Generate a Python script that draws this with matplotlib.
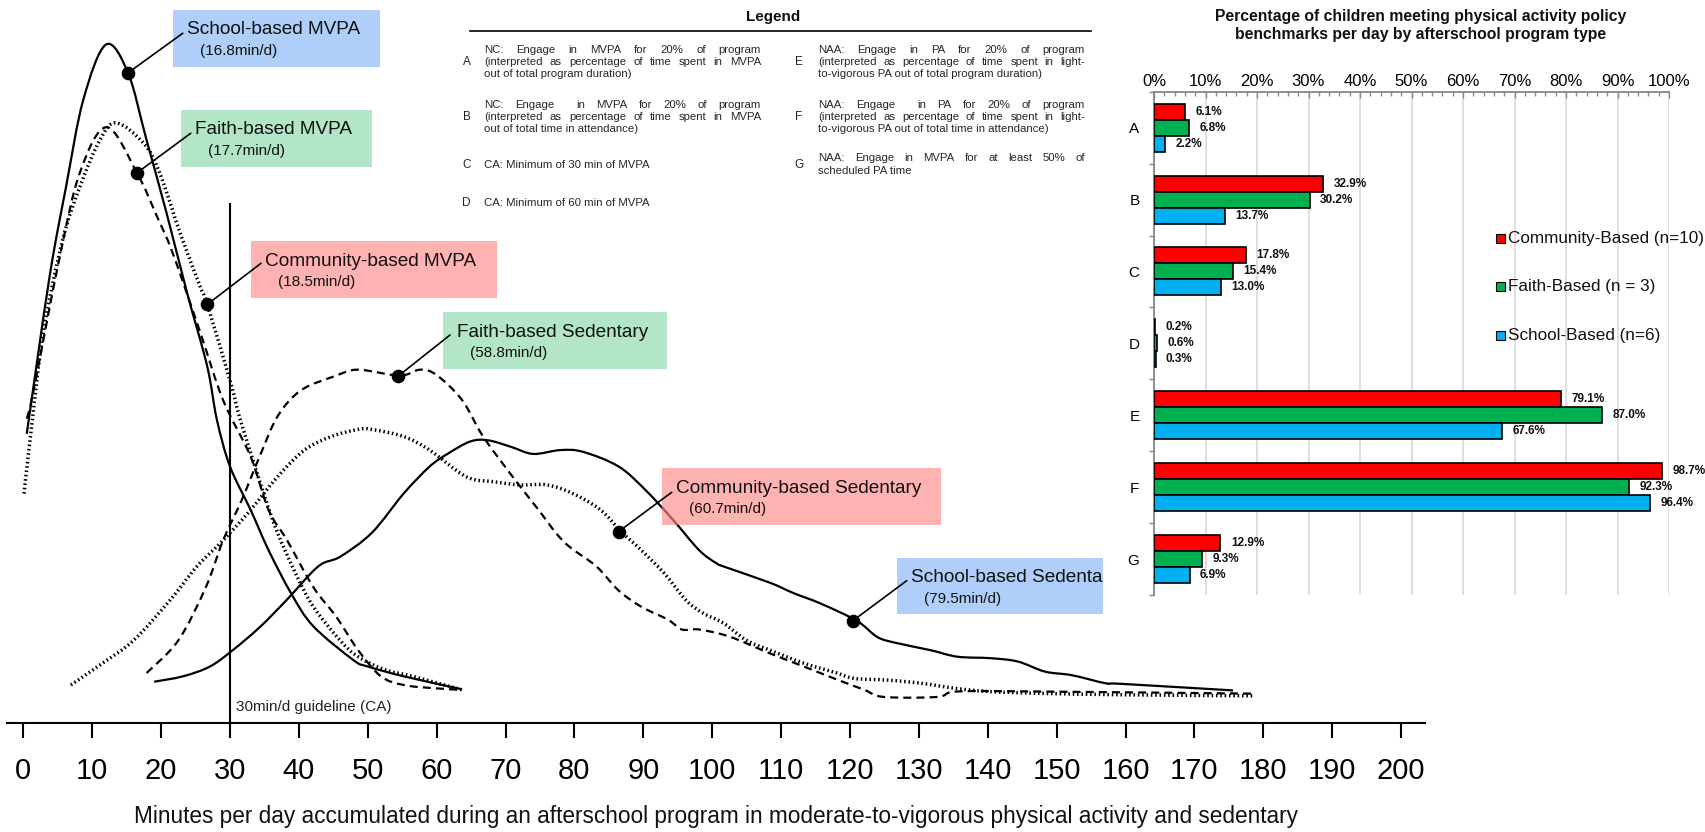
import matplotlib
matplotlib.use("Agg")
import matplotlib.pyplot as plt
from matplotlib.patches import Rectangle, PathPatch
from matplotlib.path import Path
import numpy as np

plt.rcParams['font.family'] = ['Liberation Sans', 'DejaVu Sans']

W, H = 1705, 832

# ---- distribution curves: minutes/day vs relative density (arbitrary units) ----
school_mvpa_min = [0.5, 3.8, 6.2, 8.7, 12.0, 15.2, 17.9, 20.8, 23.8, 26.7, 28.1, 30.0, 33.0, 35.6,
                   38.9, 42.1, 47.9, 50.0, 55.2, 63.7]
school_mvpa_den = [26.4, 40.8, 49.1, 57.1, 62.2, 59.6, 53.4, 46.7, 39.3, 32.6, 27.7, 23.4, 19.4, 15.7,
                   11.7, 8.7, 5.6, 5.0, 4.1, 2.9]

faith_mvpa_min = [0.5, 1.4, 5.2, 8.2, 12.1, 16.5, 19.4, 21.7, 25.7, 29.0, 33.0, 35.6, 38.3, 42.1,
                  45.4, 48.6, 51.9, 55.2, 59.7, 63.7]
faith_mvpa_den = [27.8, 30.1, 42.4, 50.4, 54.6, 50.4, 46.4, 43.0, 35.7, 29.5, 24.3, 19.4, 16.6, 12.3,
                  9.6, 6.5, 4.1, 3.3, 3.0, 2.85]

comm_mvpa_min = [0.1, 1.1, 2.9, 5.7, 8.2, 11.1, 13.5, 17.5, 19.8, 22.8, 25.7, 26.7, 30.1, 31.5,
                 34.9, 36.9, 39.5, 42.1, 46.0, 48.6, 52.5, 56.5, 63.7]
comm_mvpa_den = [20.9, 26.5, 35.7, 44.2, 49.1, 53.4, 55.0, 53.1, 50.4, 44.8, 39.9, 38.3, 31.1, 27.7,
                 20.9, 17.3, 13.6, 10.5, 7.4, 5.9, 4.7, 4.1, 2.85]

faith_sed_min = [17.9, 22.5, 26.5, 29.0, 31.7, 34.3, 36.9, 40.3, 45.2, 48.6, 54.6, 57.6, 60.0, 63.7,
                 66.8, 71.4, 74.8, 77.3, 79.3, 83.2, 86.4, 89.7, 93.6, 95.6, 98.1, 102.5, 108.4,
                 113.3, 118.1, 122.1, 124.9, 132.7, 135.6, 147.3, 178.7]
faith_sed_den = [4.4, 7.4, 12.3, 16.6, 20.3, 24.3, 28.0, 30.4, 31.7, 32.3, 31.75, 32.3, 31.8, 29.5,
                 26.1, 22.15, 19.4, 17.3, 16.0, 14.2, 12.0, 10.5, 9.3, 8.4, 8.4, 7.75, 6.2,
                 5.0, 3.8, 2.85, 2.2, 2.2, 2.7, 2.7, 2.5]

comm_sed_min = [6.9, 11.5, 16.0, 21.3, 25.2, 29.0, 33.0, 36.9, 40.8, 44.7, 48.6, 50.6, 55.2, 59.0,
                64.3, 68.2, 72.1, 76.0, 79.8, 83.8, 86.8, 89.7, 93.0, 96.2, 98.7, 101.6, 105.0,
                108.4, 113.3, 118.1, 120.6, 125.4, 130.3, 135.2, 140.0, 147.3, 159.5, 178.7]
comm_sed_den = [3.3, 5.3, 7.4, 11.1, 14.2, 16.6, 19.4, 22.45, 24.9, 26.15, 26.8, 26.8, 26.15, 24.9,
                22.45, 22.0, 21.7, 21.7, 20.9, 19.4, 17.4, 15.7, 13.6, 11.1, 9.9, 9.0, 7.4,
                6.5, 5.3, 4.4, 3.9, 3.75, 3.46, 3.0, 2.7, 2.54, 2.4, 2.3]

school_sed_min = [19.0, 23.2, 27.1, 30.4, 34.3, 38.2, 42.8, 46.0, 50.6, 55.2, 59.0, 61.7, 64.9, 67.5,
                  70.8, 74.0, 77.9, 81.2, 86.4, 90.3, 94.3, 98.1, 100.6, 102.1, 108.4, 111.8, 115.7,
                  121.0, 124.0, 126.9, 131.7, 135.6, 140.5, 144.4, 148.3, 152.2, 157.1, 159.5, 175.6]
school_sed_den = [3.6, 4.1, 5.0, 6.5, 8.6, 11.1, 14.2, 15.1, 17.3, 20.9, 23.4, 24.6, 25.7, 25.8,
                  25.2, 24.55, 24.9, 24.75, 23.4, 21.24, 18.5, 15.7, 14.5, 14.1, 12.7, 11.75, 10.8,
                  9.2, 7.7, 7.14, 6.5, 5.9, 5.76, 5.45, 4.53, 4.2, 3.46, 3.4, 2.8]

# annotation anchors on the curves and their labels
dot_min = [15.2, 16.5, 26.7, 54.4, 86.4, 120.4]
dot_den = [59.6, 50.4, 38.3, 31.7, 17.4, 9.2]
box_titles = ["School-based MVPA", "Faith-based MVPA", "Community-based MVPA",
              "Faith-based Sedentary", "Community-based Sedentary", "School-based Sedentary"]
box_means = ["(16.8min/d)", "(17.7min/d)", "(18.5min/d)", "(58.8min/d)", "(60.7min/d)", "(79.5min/d)"]
guideline_min = 30

# ---- benchmark bar chart ----
bench = ['A', 'B', 'C', 'D', 'E', 'F', 'G']
pct_community = [6.1, 32.9, 17.8, 0.2, 79.1, 98.7, 12.9]
pct_faith = [6.8, 30.2, 15.4, 0.6, 87.0, 92.3, 9.3]
pct_school = [2.2, 13.7, 13.0, 0.3, 67.6, 96.4, 6.9]
group_names = ["Community-Based (n=10)", "Faith-Based (n = 3)", "School-Based (n=6)"]

legend_lines = {
    'A': ["NC: Engage in MVPA for 20% of program",
          "(interpreted as percentage of time spent in MVPA",
          "out of total program duration)"],
    'B': ["NC: Engage  in MVPA for 20% of program",
          "(interpreted as percentage of time spent in MVPA",
          "out of total time in attendance)"],
    'C': ["CA: Minimum of 30 min of MVPA"],
    'D': ["CA: Minimum of 60 min of MVPA"],
    'E': ["NAA: Engage in PA for 20% of program",
          "(interpreted as percentage of time spent in light-",
          "to-vigorous PA out of total program duration)"],
    'F': ["NAA: Engage  in PA for 20% of program",
          "(interpreted as percentage of time spent in light-",
          "to-vigorous PA out of total time in attendance)"],
    'G': ["NAA: Engage in MVPA for at least 50% of",
          "scheduled PA time"],
}


def fx(x):
    return x / W


def fy(y):
    return 1 - y / H


def smooth(xs, ys):
    # smoothed line through the read points (cubic bezier segments)
    p = np.column_stack([xs, ys]).astype(float)
    n = len(p)
    verts, codes = [p[0]], [Path.MOVETO]
    for i in range(n - 1):
        p0 = p[i - 1] if i > 0 else p[i]
        p3 = p[i + 2] if i + 2 < n else p[i + 1]
        verts += [p[i] + (p[i + 1] - p0) / 6, p[i + 1] - (p3 - p[i]) / 6, p[i + 1]]
        codes += [Path.CURVE4] * 3
    return Path(verts, codes)


fig = plt.figure(figsize=(W / 100, H / 100), dpi=100)
fig.patch.set_facecolor('white')

# ---------------- left: distributions ----------------
ax = fig.add_axes([fx(6.7), fy(722.7), fx(1424.5 - 6.7), 722.7 / H])
ax.patch.set_alpha(0)
ax.set_xlim(-2.41, 203.4)
ax.set_ylim(-0.17, 66.3)

solid = dict(edgecolor='black', lw=1.6, ls='-')
dashed = dict(edgecolor='black', lw=1.6, ls=(0, (3.6, 2.3)))
dotted = dict(edgecolor='black', lw=2.5, ls=(0, (0.45, 0.8)))

curves = [(school_mvpa_min, school_mvpa_den, solid), (faith_mvpa_min, faith_mvpa_den, dashed),
          (comm_mvpa_min, comm_mvpa_den, dotted), (faith_sed_min, faith_sed_den, dashed),
          (comm_sed_min, comm_sed_den, dotted), (school_sed_min, school_sed_den, solid)]
for xs, ys, st in curves:
    ax.add_patch(PathPatch(smooth(xs, ys), fill=False, zorder=2, **st))

ax.vlines(guideline_min, -0.17, 47.6, color='black', lw=1.5, zorder=2)
fig.text(fx(236), fy(707), "30min/d guideline (CA)", fontsize=11, va='center', color='#222222')

for s in ['top', 'right', 'left']:
    ax.spines[s].set_visible(False)
ax.spines['bottom'].set_linewidth(1.5)
ax.set_yticks([])
ax.set_xticks(np.arange(0, 201, 10))
ax.tick_params(axis='x', direction='out', length=10.5, width=1.5, labelsize=21, pad=14)

fig.text(fx(716), fy(823), "Minutes per day accumulated during an afterschool program in "
         "moderate-to-vigorous physical activity and sedentary",
         ha='center', va='baseline', fontsize=16.3, color='#111111')

# annotation boxes (pixel layout)
box_px = [(173, 10, 380, 66.7), (181, 110, 371.7, 166.7), (251, 241, 496.7, 297.7),
          (443.3, 312.3, 666.7, 369), (662.3, 468.3, 940.7, 525), (897.3, 557.6, 1103, 614.3)]
box_col = ['#85b4f7', '#8ad8aa', '#ff8989', '#8ad8aa', '#ff8989', '#85b4f7']
lead_px = [(182.7, 33.3), (190.7, 133.3), (261, 263.3), (450, 335), (671.7, 492.3), (906.7, 580.7)]

for i in range(6):
    x0, y0, x1, y1 = box_px[i]
    rect = Rectangle((fx(x0), fy(y1)), fx(x1 - x0), (y1 - y0) / H, transform=fig.transFigure,
                     facecolor=box_col[i], alpha=0.65, edgecolor='none', zorder=3, clip_on=False)
    ax.add_patch(rect)
    ax.annotate('', xy=(dot_min[i], dot_den[i]), xycoords='data',
                xytext=(fx(lead_px[i][0]), fy(lead_px[i][1])), textcoords='figure fraction',
                arrowprops=dict(arrowstyle='-', color='black', lw=1.2, shrinkA=0, shrinkB=0),
                zorder=3.5)
    t1 = ax.text(fx(x0 + 14), fy(y0 + 20), box_titles[i], transform=fig.transFigure,
                 fontsize=13.7, va='center', color='#111111', zorder=4, clip_on=False)
    t2 = ax.text(fx(x0 + 27), fy(y0 + 41), box_means[i], transform=fig.transFigure,
                 fontsize=11, va='center', color='#111111', zorder=4, clip_on=False)
    if i == 5:
        for t in (t1, t2):
            t.set_clip_on(True)
            t.set_clip_path(rect)

ax.plot(dot_min, dot_den, 'o', color='black', ms=8.8, zorder=5, clip_on=False)

# ---------------- middle: text legend ----------------
TXT = '#262626'
renderer = fig.canvas.get_renderer()


def justified(lines, x0, x1, ys, size=8.2):
    for k, (line, y) in enumerate(zip(lines, ys)):
        if k == len(lines) - 1:
            fig.text(fx(x0), fy(y), line, fontsize=size, va='center', color=TXT)
            continue
        words = line.split(' ')
        ts = [fig.text(0, fy(y), w, fontsize=size, va='center', color=TXT) for w in words]
        ws = [t.get_window_extent(renderer).width if w else 0 for t, w in zip(ts, words)]
        gap = (x1 - x0 - sum(ws)) / (len(words) - 1)
        x = x0
        for t, w in zip(ts, ws):
            t.set_x(fx(x))
            x += w + gap


fig.text(fx(773), fy(17), "Legend", ha='center', va='center', fontsize=11, weight='bold', color='#111111')
fig.add_artist(plt.Line2D([fx(470), fx(1091)], [fy(30.5), fy(30.5)], color='black', lw=1.2))

item_y = {'A': [50, 62, 74], 'B': [105, 117, 129], 'C': [165.5], 'D': [203.3],
          'E': [50, 62, 74], 'F': [105, 117, 129], 'G': [158, 171]}
for key in bench:
    ys = item_y[key]
    if key in 'ABCD':
        lx, x0, x1 = 466.5, 484, 761
    else:
        lx, x0, x1 = 799, 818, 1085
    fig.text(fx(lx), fy(np.mean(ys)), key, ha='center', va='center', fontsize=8.5, color=TXT)
    justified(legend_lines[key], x0, x1, ys)

# ---------------- right: bar chart ----------------
bx = fig.add_axes([fx(1154), fy(595), fx(1669 - 1154), (595 - 91.7) / H])
bar_colors = ['#ff0000', '#00b050', '#00b0f0']
pos = np.arange(len(bench))
bh = 0.2225
for k, vals in enumerate([pct_community, pct_faith, pct_school]):
    yy = pos + (k - 1) * bh
    bx.barh(yy, vals, height=bh, color=bar_colors[k], edgecolor='black', lw=1.2, zorder=3)
    for p, v in zip(yy, vals):
        bx.annotate(f"{v:.1f}%", (v, p), xytext=(7.5, 0), textcoords='offset points',
                    ha='left', va='center', fontsize=8.5, weight='bold', color='#111111',
                    annotation_clip=False)

bx.set_xlim(0, 100)
bx.set_ylim(6.5, -0.5)
bx.set_xticks(np.arange(0, 101, 10))
bx.set_xticklabels([f"{v}%" for v in range(0, 101, 10)])
bx.set_xticks(np.arange(0, 101, 2), minor=True)
bx.xaxis.tick_top()
bx.tick_params(axis='x', which='both', direction='in', color='#868686', width=1)
bx.tick_params(axis='x', which='major', length=4, labelsize=12, pad=1.7)
bx.tick_params(axis='x', which='minor', length=3)
bx.set_yticks(pos)
bx.set_yticklabels(bench)
bx.set_yticks(np.arange(-0.5, 7, 1), minor=True)
bx.tick_params(axis='y', which='major', length=0, labelsize=11, pad=10.5)
bx.tick_params(axis='y', which='minor', direction='out', length=3.3, color='#868686', width=1)
bx.grid(axis='x', which='major', color='#d9d9d9', lw=1.2, zorder=0)
bx.spines['right'].set_visible(False)
bx.spines['bottom'].set_visible(False)
for s in ['top', 'left']:
    bx.spines[s].set_color('#868686')
    bx.spines[s].set_linewidth(1.3)

fig.text(fx(1421), fy(16.7), "Percentage of children meeting physical activity policy",
         ha='center', va='center', fontsize=11.3, weight='bold', color='#111111')
fig.text(fx(1421), fy(35), "benchmarks per day by afterschool program type",
         ha='center', va='center', fontsize=11.3, weight='bold', color='#111111')

for k, name in enumerate(group_names):
    yc = 238 + k * 48.5
    fig.add_artist(Rectangle((fx(1496), fy(yc + 4.5)), fx(8.5), 9 / H, transform=fig.transFigure,
                             facecolor=bar_colors[k], edgecolor='black', lw=0.8))
    fig.text(fx(1508), fy(yc), name, va='center', fontsize=12.3, color='#111111')

fig.savefig("out.png", dpi=100)
